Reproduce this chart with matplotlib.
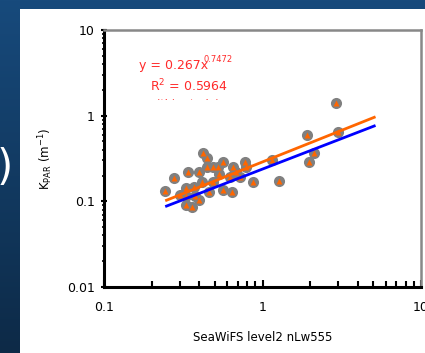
import numpy as np
import matplotlib
matplotlib.use("Agg")
import matplotlib.pyplot as plt
from matplotlib.patches import Rectangle
from matplotlib.colors import LinearSegmentedColormap
from matplotlib.transforms import Bbox

# ---- data ----
x_obs = [2.91, 1.90, 3.00, 2.12, 1.97, 1.28, 1.14, 0.875, 0.78, 0.42,
         0.277, 0.243, 0.36, 0.33, 0.566, 0.65, 0.525, 0.445, 0.397, 0.34,
         0.417, 0.327, 0.37, 0.46, 0.56, 0.645, 0.72, 0.62, 0.79, 0.49,
         0.375, 0.33, 0.40, 0.445, 0.49, 0.30, 0.53, 0.68]
y_obs = [1.42, 0.595, 0.64, 0.364, 0.29, 0.174, 0.30, 0.17, 0.29, 0.364,
         0.189, 0.133, 0.087, 0.091, 0.286, 0.254, 0.254, 0.254, 0.222, 0.218,
         0.17, 0.142, 0.148, 0.13, 0.136, 0.13, 0.194, 0.194, 0.254, 0.17,
         0.114, 0.114, 0.104, 0.32, 0.254, 0.12, 0.21, 0.22]

fit_orange_x = [0.248, 5.07]
fit_orange_y = [0.103, 0.957]
fit_blue_x = [0.248, 5.07]
fit_blue_y = [0.088, 0.758]

eq_text = "y = 0.267x"
eq_exp = "0.7472"
r2_text = "R$^{2}$ = 0.5964"

x_ticks = [0.1, 1, 10]
x_ticklabels = ["0.1", "1", "10"]
y_ticks = [0.01, 0.1, 1, 10]
y_ticklabels = ["0.01", "0.1", "1", "10"]

W, H = 425, 353
fig = plt.figure(figsize=(W / 100, H / 100), dpi=100)

# background gradient (slide)
bg = fig.add_axes([0, 0, 1, 1], zorder=-10)
cmap = LinearSegmentedColormap.from_list("bg", ["#174a7c", "#0d2a47"])
bg.imshow(np.linspace(0, 1, 256).reshape(-1, 1), aspect="auto", cmap=cmap,
          extent=[0, 1, 0, 1], origin="upper")
bg.set_xlim(0, 1)
bg.set_ylim(0, 1)
bg.axis("off")
bg.add_patch(Rectangle((20 / W, 0), 1, 1 - 9 / H, facecolor="white",
                       edgecolor="none"))
bg.text(-3 / W, 1 - 168 / H, ")", color="white", fontsize=30,
        va="center", ha="left", family="DejaVu Sans")

ax = fig.add_axes([104 / W, 1 - 287 / H, (421 - 104) / W, (287 - 30) / H])
ax.set_xscale("log")
ax.set_yscale("log")
ax.set_xlim(0.1, 10)
ax.set_ylim(0.01, 10)

ax.plot(fit_blue_x, fit_blue_y, color="#0000ff", lw=2.0, zorder=4)
ax.plot(fit_orange_x, fit_orange_y, color="#ff6600", lw=2.0, zorder=4)
ax.plot(x_obs, y_obs, linestyle="none", marker="o", ms=8,
        color="#808080", markeredgecolor="none", zorder=2)
ax.plot(x_obs, y_obs, linestyle="none", marker="^", ms=4.5,
        color="#ff6600", markeredgecolor="none", zorder=3)

for s in ["left", "bottom"]:
    ax.spines[s].set_color("black")
    ax.spines[s].set_linewidth(2.2)
for s in ["top", "right"]:
    ax.spines[s].set_color("#888888")
    ax.spines[s].set_linewidth(1.8)

ax.set_xticks(x_ticks)
ax.set_xticklabels(x_ticklabels)
ax.set_yticks(y_ticks)
ax.set_yticklabels(y_ticklabels)
ax.tick_params(axis="x", which="major", direction="in", length=5, width=1.5,
               labelsize=9, pad=10)
ax.tick_params(axis="x", which="minor", direction="in", length=4, width=1.5)
ax.tick_params(axis="y", which="major", direction="inout", length=5,
               width=1.5, labelsize=9, pad=4)
ax.tick_params(axis="y", which="minor", direction="inout", length=3,
               width=1.2)

ax.set_xlabel("SeaWiFS level2 nLw555", fontsize=8.5, labelpad=12)
ax.set_ylabel("K$_{\\mathregular{PAR}}$ (m$^{\\mathregular{-1}}$)",
              fontsize=8.5, labelpad=9)

red = "#ff2a2a"
fig.text(139 / W, 1 - 66 / H, eq_text, color=red, fontsize=9,
         va="center", ha="left")
fig.text(204 / W, 1 - 59 / H, eq_exp, color=red, fontsize=6,
         va="center", ha="left")
fig.text(150 / W, 1 - 86 / H, r2_text, color=red, fontsize=9,
         va="center", ha="left")
t3 = fig.text(156 / W, 1 - 104 / H, "(this study)", color=red, fontsize=8,
              va="center", ha="left")
t3.set_clip_box(Bbox([[0, H - 100], [W, H]]))
t3.set_clip_on(True)

fig.savefig("out.png", dpi=100)
